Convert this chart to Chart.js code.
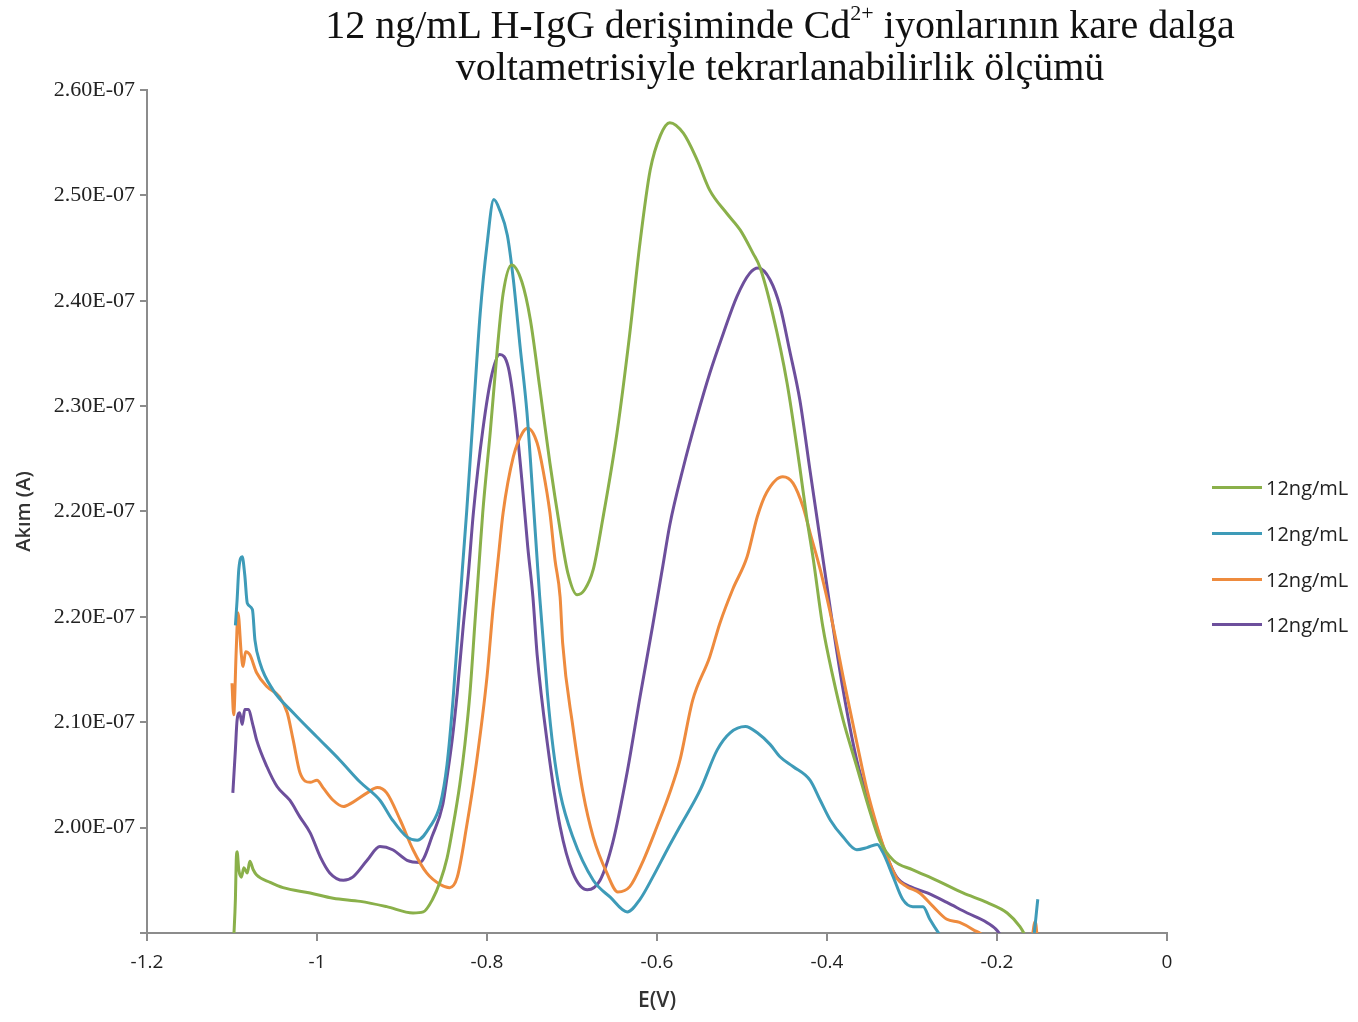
<!DOCTYPE html>
<html lang="tr">
<head>
<meta charset="utf-8">
<title>Cd2+ kare dalga voltametrisi - tekrarlanabilirlik</title>
<script src="https://cdn.jsdelivr.net/npm/chart.js@4.4.1/dist/chart.umd.min.js"></script>
<style>
  html, body { margin: 0; padding: 0; background: #fff; }
  #wrap { position: relative; width: 1358px; height: 1022px; overflow: hidden; }
  #chart { position: absolute; left: 0; top: 0; }
  #title {
    position: absolute; left: 280px; width: 1000px; top: 4px;
    text-align: center; color: #111;
    font-family: 'Liberation Serif', 'DejaVu Serif', serif;
    font-size: 40px; line-height: 42px;
  }
  #title sup { font-size: 55%; line-height: 0; vertical-align: 0.8em; }
  #legend {
    position: absolute; left: 1212px; top: 465px;
    font-family: 'Liberation Sans Narrow', 'Open Sans', sans-serif;
    font-size: 20px; color: #222;
  }
  .legend-row { height: 45.7px; display: flex; align-items: center; }
  .legend-line { width: 50px; height: 3px; margin-right: 4px; }
</style>
</head>
<body>
<div id="wrap">
  <canvas id="chart" width="1358" height="1022"></canvas>
  <div id="title">12 ng/mL H-IgG derişiminde Cd<sup>2+</sup> iyonlarının kare dalga<br>voltametrisiyle tekrarlanabilirlik ölçümü</div>
  <div id="legend"></div>
</div>
<script>
// ============================================================
// DATA
// points are [E (V), current in units of 1E-07 A]
// ============================================================
const run1 = [ // green
  [-1.098,1.794],[-1.096,1.832],[-1.095,1.869],[-1.094,1.877],[-1.092,1.860],[-1.089,1.853],
  [-1.086,1.862],[-1.082,1.857],[-1.079,1.868],[-1.075,1.860],[-1.071,1.855],[-1.055,1.848],
  [-1.040,1.843],[-1.008,1.838],[-0.981,1.833],[-0.949,1.830],[-0.918,1.825],[-0.887,1.819],
  [-0.875,1.820],[-0.864,1.832],[-0.855,1.849],[-0.847,1.871],[-0.840,1.901],[-0.832,1.941],
  [-0.826,1.979],[-0.820,2.028],[-0.814,2.097],[-0.809,2.154],[-0.805,2.199],[-0.796,2.277],
  [-0.788,2.353],[-0.781,2.407],[-0.771,2.434],[-0.759,2.418],[-0.749,2.382],[-0.738,2.318],
  [-0.726,2.246],[-0.714,2.183],[-0.705,2.142],[-0.694,2.121],[-0.685,2.126],[-0.675,2.145],
  [-0.664,2.192],[-0.647,2.275],[-0.632,2.369],[-0.620,2.455],[-0.608,2.524],[-0.596,2.557],
  [-0.585,2.569],[-0.569,2.559],[-0.553,2.534],[-0.538,2.505],[-0.518,2.483],[-0.502,2.467],
  [-0.487,2.445],[-0.479,2.432],[-0.464,2.388],[-0.447,2.322],[-0.432,2.242],[-0.424,2.195],
  [-0.416,2.154],[-0.405,2.091],[-0.393,2.043],[-0.381,2.002],[-0.365,1.958],[-0.349,1.914],
  [-0.338,1.888],[-0.322,1.869],[-0.299,1.860],[-0.271,1.850],[-0.240,1.838],[-0.212,1.829],
  [-0.188,1.819],[-0.173,1.806],[-0.161,1.789]
];

const run2 = [ // blue
  [-1.096,2.092],[-1.094,2.116],[-1.092,2.145],[-1.088,2.157],[-1.085,2.140],[-1.082,2.113],
  [-1.076,2.107],[-1.073,2.078],[-1.067,2.056],[-1.052,2.031],[-1.028,2.009],[-1.000,1.986],
  [-0.973,1.964],[-0.949,1.943],[-0.926,1.926],[-0.911,1.907],[-0.894,1.891],[-0.882,1.888],
  [-0.867,1.901],[-0.855,1.922],[-0.847,1.960],[-0.840,2.021],[-0.834,2.088],[-0.829,2.145],
  [-0.824,2.199],[-0.816,2.294],[-0.808,2.388],[-0.800,2.453],[-0.792,2.496],[-0.785,2.486],
  [-0.776,2.462],[-0.769,2.420],[-0.761,2.356],[-0.753,2.294],[-0.746,2.214],[-0.741,2.154],
  [-0.738,2.119],[-0.729,2.028],[-0.722,1.974],[-0.714,1.933],[-0.699,1.891],[-0.675,1.850],
  [-0.655,1.834],[-0.635,1.820],[-0.620,1.832],[-0.605,1.853],[-0.588,1.879],[-0.573,1.901],
  [-0.549,1.936],[-0.529,1.974],[-0.514,1.990],[-0.496,1.996],[-0.482,1.990],[-0.467,1.979],
  [-0.455,1.967],[-0.440,1.958],[-0.420,1.945],[-0.408,1.926],[-0.396,1.907],[-0.381,1.891],
  [-0.365,1.879],[-0.353,1.881],[-0.341,1.884],[-0.334,1.876],[-0.322,1.853],[-0.311,1.832],
  [-0.299,1.825],[-0.287,1.825],[-0.279,1.813],[-0.267,1.798],[-0.196,1.727],[-0.158,1.789],
  [-0.152,1.832]
];

const run3 = [ // orange
  [-1.100,2.037],[-1.098,2.007],[-1.095,2.069],[-1.093,2.104],[-1.089,2.064],[-1.087,2.053],
  [-1.084,2.067],[-1.079,2.064],[-1.071,2.047],[-1.059,2.034],[-1.044,2.024],[-1.035,2.009],
  [-1.028,1.983],[-1.020,1.952],[-1.008,1.943],[-1.000,1.945],[-0.993,1.938],[-0.981,1.926],
  [-0.969,1.920],[-0.958,1.924],[-0.941,1.933],[-0.929,1.938],[-0.918,1.933],[-0.902,1.907],
  [-0.887,1.879],[-0.871,1.857],[-0.855,1.846],[-0.844,1.843],[-0.835,1.853],[-0.824,1.901],
  [-0.812,1.964],[-0.800,2.043],[-0.793,2.107],[-0.787,2.154],[-0.781,2.199],[-0.769,2.252],
  [-0.758,2.275],[-0.752,2.279],[-0.741,2.265],[-0.734,2.239],[-0.726,2.199],[-0.720,2.154],
  [-0.714,2.119],[-0.711,2.075],[-0.699,1.996],[-0.687,1.933],[-0.675,1.891],[-0.659,1.857],
  [-0.646,1.839],[-0.632,1.844],[-0.616,1.869],[-0.600,1.901],[-0.585,1.933],[-0.573,1.964],
  [-0.558,2.021],[-0.538,2.062],[-0.526,2.094],[-0.511,2.126],[-0.494,2.157],[-0.482,2.195],
  [-0.471,2.218],[-0.452,2.233],[-0.440,2.227],[-0.428,2.204],[-0.420,2.180],[-0.408,2.145],
  [-0.393,2.092],[-0.379,2.035],[-0.365,1.981],[-0.353,1.936],[-0.341,1.901],[-0.329,1.872],
  [-0.318,1.852],[-0.306,1.844],[-0.291,1.838],[-0.275,1.825],[-0.259,1.813],[-0.244,1.810],
  [-0.228,1.803],[-0.214,1.794],[-0.196,1.746],[-0.160,1.789],[-0.155,1.811],[-0.152,1.789]
];

const run4 = [ // purple
  [-1.099,1.933],[-1.096,1.974],[-1.094,2.002],[-1.091,2.009],[-1.088,1.998],[-1.085,2.012],
  [-1.081,2.012],[-1.075,1.996],[-1.071,1.983],[-1.059,1.958],[-1.047,1.939],[-1.032,1.926],
  [-1.020,1.910],[-1.008,1.895],[-0.996,1.872],[-0.985,1.857],[-0.969,1.850],[-0.958,1.853],
  [-0.941,1.869],[-0.926,1.882],[-0.911,1.879],[-0.894,1.869],[-0.879,1.867],[-0.864,1.893],
  [-0.852,1.922],[-0.847,1.948],[-0.841,1.983],[-0.835,2.028],[-0.828,2.091],[-0.822,2.140],
  [-0.816,2.199],[-0.805,2.277],[-0.794,2.331],[-0.785,2.349],[-0.775,2.337],[-0.767,2.294],
  [-0.759,2.230],[-0.752,2.166],[-0.746,2.119],[-0.741,2.064],[-0.729,1.980],[-0.714,1.901],
  [-0.699,1.857],[-0.682,1.841],[-0.667,1.850],[-0.652,1.886],[-0.635,1.953],[-0.620,2.024],
  [-0.605,2.092],[-0.593,2.149],[-0.585,2.187],[-0.569,2.242],[-0.553,2.290],[-0.538,2.331],
  [-0.522,2.369],[-0.506,2.404],[-0.491,2.426],[-0.481,2.431],[-0.467,2.420],[-0.455,2.394],
  [-0.444,2.353],[-0.432,2.306],[-0.420,2.239],[-0.408,2.173],[-0.396,2.107],[-0.382,2.035],
  [-0.365,1.964],[-0.349,1.920],[-0.334,1.882],[-0.318,1.853],[-0.302,1.844],[-0.282,1.838],
  [-0.259,1.829],[-0.235,1.819],[-0.212,1.810],[-0.196,1.798],[-0.185,1.775]
];

const seriesLabels = ['12ng/mL', '12ng/mL', '12ng/mL', '12ng/mL'];
const seriesColors = ['#8AB04A', '#3E9BB8', '#EE8B3E', '#6D4F9C'];

// axis ticks (the original labels repeat 2.20E-07 — kept as printed)
const xTickValues = [-1.2, -1, -0.8, -0.6, -0.4, -0.2, 0];
const xTickLabels = ['-1.2', '-1', '-0.8', '-0.6', '-0.4', '-0.2', '0'];
const yTickValues = [1.8, 1.9, 2.0, 2.1, 2.2, 2.3, 2.4, 2.5, 2.6];
const yTickLabels = ['', '2.00E-07', '2.10E-07', '2.20E-07', '2.20E-07', '2.30E-07', '2.40E-07', '2.50E-07', '2.60E-07'];

// ============================================================
// CHART
// ============================================================
const AXIS_GREY = '#8c8c8c';
const runs = [run1, run2, run3, run4];

const datasets = runs.map((pts, i) => ({
  label: seriesLabels[i],
  data: pts.map(p => ({ x: p[0], y: p[1] })),
  borderColor: seriesColors[i],
  backgroundColor: seriesColors[i],
  borderWidth: 3,
  pointRadius: 0,
  cubicInterpolationMode: 'monotone',
  fill: false,
}));

const chart = new Chart(document.getElementById('chart'), {
  type: 'line',
  data: { datasets },
  options: {
    responsive: false,
    animation: false,
    layout: { padding: { top: 90, right: 191, left: 0, bottom: 0 } },
    plugins: {
      legend: { display: false },
      title: { display: false },
      tooltip: { enabled: false },
    },
    scales: {
      x: {
        type: 'linear',
        min: -1.2, max: 0,
        afterFit: s => { s.height = 89; },
        afterBuildTicks: s => { s.ticks = xTickValues.map(v => ({ value: v })); },
        ticks: {
          callback: (v, i) => xTickLabels[i],
          color: '#222',
          font: { family: "'Liberation Sans Narrow', 'Open Sans', sans-serif", size: 19 },
          padding: 10,
          maxRotation: 0,
        },
        grid: { drawOnChartArea: false, drawTicks: true, tickLength: 8, color: AXIS_GREY, lineWidth: 2 },
        border: { color: AXIS_GREY, width: 2 },
        title: {
          display: true, text: 'E(V)', color: '#333',
          font: { family: "'Open Sans', sans-serif", size: 21, weight: '600' },
          padding: { top: 0, bottom: 8 },
        },
      },
      y: {
        type: 'linear',
        min: 1.8, max: 2.6,
        afterFit: s => { s.width = 147; },
        afterBuildTicks: s => { s.ticks = yTickValues.map(v => ({ value: v })); },
        ticks: {
          callback: (v, i) => yTickLabels[i],
          color: '#222',
          font: { family: "'Liberation Serif', 'DejaVu Serif', serif", size: 22 },
          padding: 5,
        },
        grid: { drawOnChartArea: false, drawTicks: true, tickLength: 7, color: AXIS_GREY, lineWidth: 2 },
        border: { color: AXIS_GREY, width: 2 },
        title: {
          display: true, text: 'Akım (A)', color: '#333',
          font: { family: "'Open Sans', sans-serif", size: 20, weight: '600' },
          padding: { top: 12, bottom: 0 },
        },
      },
    },
  },
});

// ============================================================
// LEGEND (html, built from the datasets)
// ============================================================
const legendEl = document.getElementById('legend');
chart.data.datasets.forEach(ds => {
  const row = document.createElement('div');
  row.className = 'legend-row';
  const line = document.createElement('span');
  line.className = 'legend-line';
  line.style.background = ds.borderColor;
  const text = document.createElement('span');
  text.textContent = ds.label;
  row.appendChild(line);
  row.appendChild(text);
  legendEl.appendChild(row);
});
</script>
</body>
</html>
